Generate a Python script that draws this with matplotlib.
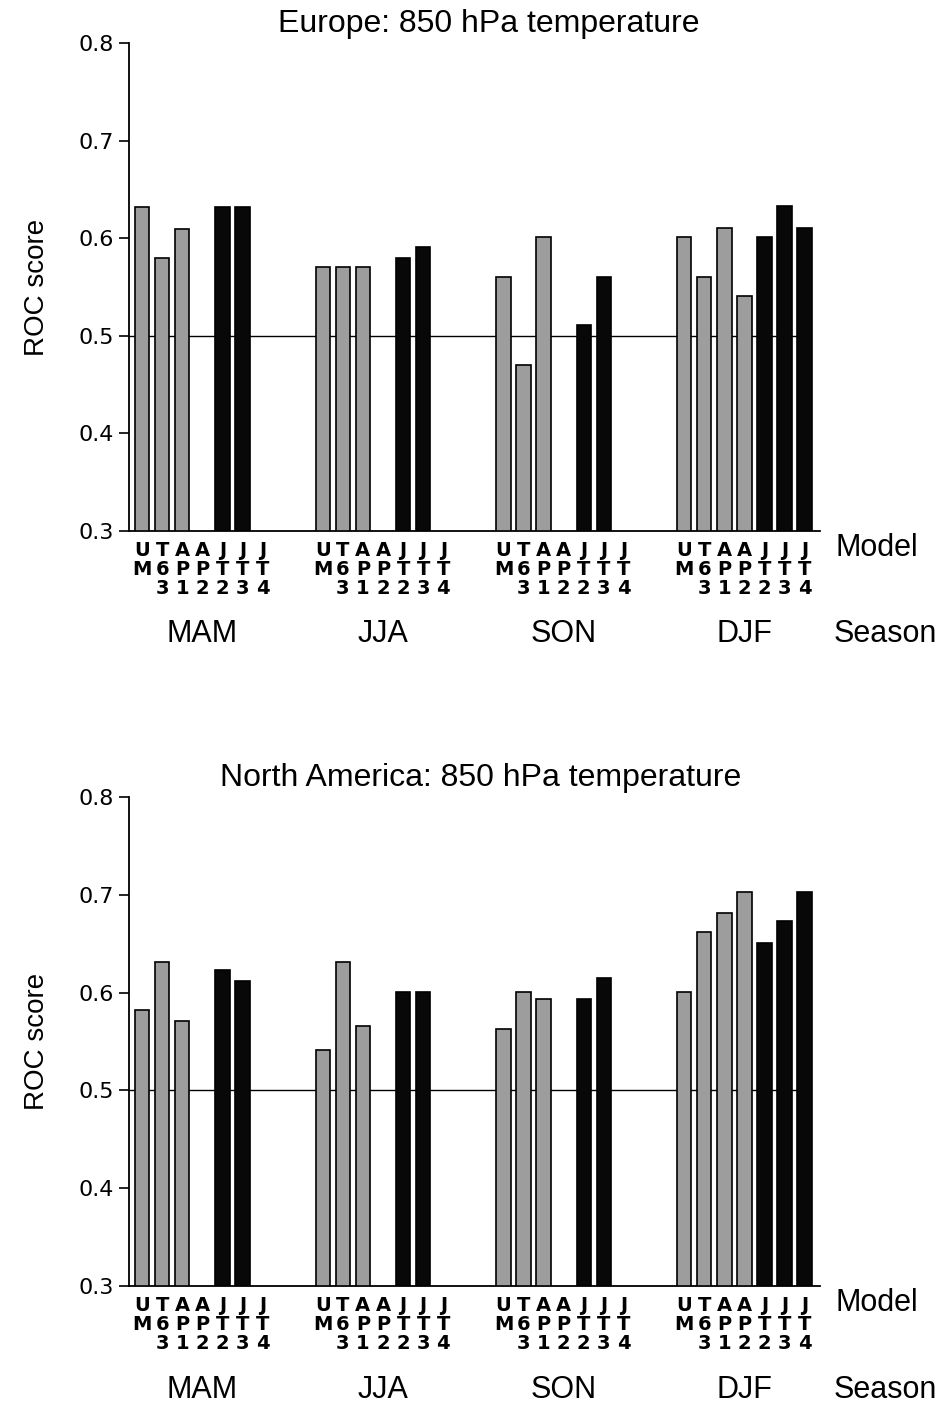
import numpy as np
import matplotlib
matplotlib.use('Agg')
import matplotlib.pyplot as plt

# data (nan = no bar)
seasons = ['MAM', 'JJA', 'SON', 'DJF']
models = ['U\nM', 'T\n6\n3', 'A\nP\n1', 'A\nP\n2', 'J\nT\n2', 'J\nT\n3', 'J\nT\n4']
model_colors = ['#9d9d9d'] * 4 + ['#080808'] * 3

nan = np.nan
europe = [
    [0.632, 0.580, 0.609, nan, 0.632, 0.632, nan],    # MAM
    [0.571, 0.571, 0.571, nan, 0.580, 0.591, nan],    # JJA
    [0.560, 0.470, 0.601, nan, 0.511, 0.560, nan],    # SON
    [0.601, 0.560, 0.610, 0.541, 0.601, 0.633, 0.610],  # DJF
]
namerica = [
    [0.582, 0.631, 0.571, nan, 0.623, 0.612, nan],
    [0.541, 0.631, 0.566, nan, 0.601, 0.601, nan],
    [0.563, 0.601, 0.593, nan, 0.593, 0.615, nan],
    [0.601, 0.662, 0.681, 0.703, 0.651, 0.673, 0.703],
]
titles = ['Europe: 850 hPa temperature', 'North America: 850 hPa temperature']
yticks = [0.3, 0.4, 0.5, 0.6, 0.7, 0.8]

plt.rcParams['font.family'] = ['Liberation Sans', 'DejaVu Sans']

fig = plt.figure(figsize=(9.44, 14.03), dpi=100)
ax_pos = [[0.1367, 0.6215, 0.732, 0.3478], [0.1367, 0.0834, 0.732, 0.3485]]
title_x = [0.521, 0.509]

for k, region in enumerate([europe, namerica]):
    ax = fig.add_axes(ax_pos[k])
    xs, hs, cs = [], [], []
    for s in range(len(seasons)):
        for m in range(len(models)):
            xs.append(s * 9 + m)
            hs.append(region[s][m])
            cs.append(model_colors[m])
    hs = np.array(hs)
    ok = ~np.isnan(hs)
    xs = np.array(xs)
    ax.bar(xs[ok], hs[ok] - 0.3, bottom=0.3, width=0.72,
           color=np.array(cs)[ok], edgecolor='black', linewidth=1.2, zorder=3)
    ax.hlines(0.5, -0.65, xs[ok].max(), color='black', linewidth=1.0, zorder=2)

    ax.set_xlim(-0.65, 33.77)
    ax.set_ylim(0.3, 0.8)
    ax.spines['top'].set_visible(False)
    ax.spines['right'].set_visible(False)
    ax.spines['left'].set_linewidth(1.3)
    ax.spines['bottom'].set_linewidth(1.3)

    ax.set_yticks(yticks)
    ax.set_yticklabels(['%.1f' % v for v in yticks], family='DejaVu Sans', fontsize=16)
    ax.tick_params(axis='y', length=7, width=1.2, pad=4)

    ax.set_xticks(xs)
    ax.set_xticklabels(models * len(seasons), family='DejaVu Sans', fontsize=14,
                       fontweight='semibold', linespacing=1.0)
    ax.tick_params(axis='x', length=0, pad=7)

    ax.set_ylabel('ROC score', fontsize=20, labelpad=20)
    ax.set_title(titles[k], fontsize=23, x=title_x[k], pad=8)

    for s, name in enumerate(seasons):
        ax.text(s * 9 + 3, -0.212, name, transform=ax.get_xaxis_transform(),
                ha='center', va='center', fontsize=22)
    ax.text(1.022, -0.035, 'Model', transform=ax.transAxes, ha='left',
            va='center', fontsize=22)
    ax.text(1.019, -0.212, 'Season', transform=ax.transAxes, ha='left',
            va='center', fontsize=22)

plt.savefig('out.png', dpi=100)
